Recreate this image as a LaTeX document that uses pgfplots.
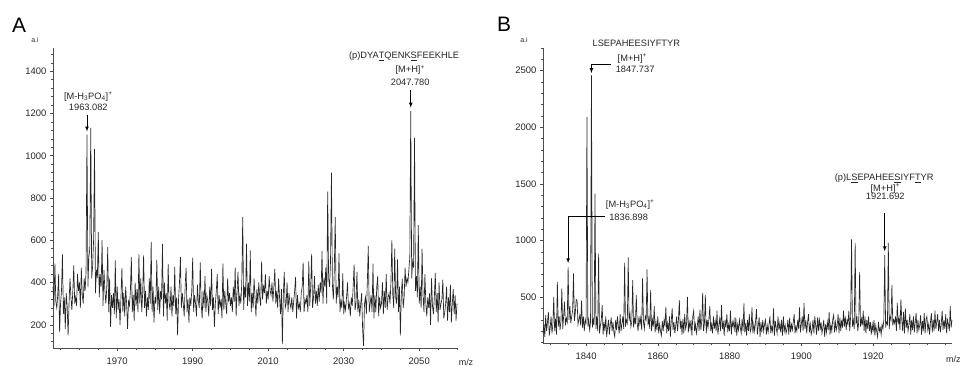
\documentclass[border=0pt]{standalone}
\usepackage{pgfplots}
\pgfplotsset{compat=1.18}
\usepackage{fontspec}
\setmainfont{Liberation Sans}
\definecolor{txt}{HTML}{262626}
\pgfplotsset{
  spec/.style={
    scale only axis, anchor=south west, clip=false,
    axis x line*=bottom, axis y line*=left,
    tick align=outside, major tick length=3bp, minor tick length=2bp,
    tick style={black!70, line width=0.5bp},
    axis line style={black!70, line width=0.6bp},
    every tick label/.append style={font=\fontsize{9.5}{10}\selectfont, text=txt},
    /pgf/number format/assume math mode=true,
    /pgf/number format/set thousands separator={},
    xticklabel style={yshift=-3.5bp},
  },
  specline/.style={black!85, line width=0.65bp, mark=none},
}
\newcommand{\ann}{\fontsize{9.3}{10}\selectfont\color{txt}}
\begin{document}
\begin{tikzpicture}
\useasboundingbox (0,0) rectangle (965bp,366bp);
% ---------------- Panel A ----------------
\begin{axis}[spec, at={(53bp,18bp)}, width=404bp, height=300bp,
  xmin=1953, xmax=2060, ymin=90, ymax=1510,
  xtick={1970,1990,2010,2030,2050}, minor xtick={1955,1960,...,2060},
  ytick={200,400,...,1400}, minor ytick={120,160,...,1480}]
\addplot[specline] coordinates {
(1953,380)(1953.25,290)(1953.5,490)(1953.75,310)
(1954,280)(1954.25,340)(1954.5,440)(1954.75,165)
(1955,300)(1955.25,360)(1955.5,533)(1955.75,250)
(1956,330)(1956.25,180)(1956.5,350)(1956.75,290)
(1957,150)(1957.25,300)(1957.5,420)(1957.75,330)
(1958,270)(1958.25,360)(1958.5,481)(1958.75,300)
(1959,330)(1959.25,290)(1959.5,440)(1959.75,360)
(1960,400)(1960.25,280)(1960.5,470)(1960.75,340)
(1961,300)(1961.25,420)(1961.5,360)(1961.75,450)
(1962,1100)(1962.25,380)(1962.5,520)(1962.75,560)
(1963,1132)(1963.25,420)(1963.5,480)(1963.75,600)
(1964,1032)(1964.25,350)(1964.5,460)(1964.75,420)
(1965,640)(1965.25,330)(1965.5,440)(1965.75,380)
(1966,600)(1966.25,290)(1966.5,460)(1966.75,360)
(1967,300)(1967.25,380)(1967.5,568)(1967.75,260)
(1968,420)(1968.25,190)(1968.5,340)(1968.75,280)
(1969,350)(1969.25,250)(1969.5,505)(1969.75,230)
(1970,380)(1970.25,270)(1970.5,320)(1970.75,200)
(1971,330)(1971.25,469)(1971.5,260)(1971.75,350)
(1972,240)(1972.25,380)(1972.5,300)(1972.75,180)
(1973,310)(1973.25,290)(1973.5,360)(1973.75,521)
(1974,260)(1974.25,340)(1974.5,220)(1974.75,400)
(1975,290)(1975.25,370)(1975.5,260)(1975.75,535)
(1976,300)(1976.25,420)(1976.5,260)(1976.75,350)
(1977,528)(1977.25,280)(1977.5,360)(1977.75,240)
(1978,330)(1978.25,270)(1978.5,420)(1978.75,300)
(1979,592)(1979.25,260)(1979.5,380)(1979.75,210)
(1980,330)(1980.25,300)(1980.5,507)(1980.75,270)
(1981,380)(1981.25,250)(1981.5,360)(1981.75,320)
(1982,583)(1982.25,240)(1982.5,400)(1982.75,300)
(1983,350)(1983.25,220)(1983.5,488)(1983.75,300)
(1984,270)(1984.25,380)(1984.5,240)(1984.75,340)
(1985,290)(1985.25,474)(1985.5,250)(1985.75,330)
(1986,150)(1986.25,320)(1986.5,400)(1986.75,521)
(1987,280)(1987.25,350)(1987.5,300)(1987.75,240)
(1988,380)(1988.25,470)(1988.5,260)(1988.75,320)
(1989,210)(1989.25,330)(1989.5,290)(1989.75,360)
(1990,518)(1990.25,260)(1990.5,340)(1990.75,300)
(1991,240)(1991.25,390)(1991.5,310)(1991.75,280)
(1992,495)(1992.25,300)(1992.5,230)(1992.75,360)
(1993,280)(1993.25,430)(1993.5,260)(1993.75,340)
(1994,310)(1994.25,240)(1994.5,380)(1994.75,290)
(1995,464)(1995.25,270)(1995.5,330)(1995.75,190)
(1996,300)(1996.25,360)(1996.5,440)(1996.75,250)
(1997,340)(1997.25,280)(1997.5,320)(1997.75,230)
(1998,490)(1998.25,270)(1998.5,360)(1998.75,300)
(1999,250)(1999.25,420)(1999.5,310)(1999.75,350)
(2000,290)(2000.25,330)(2000.5,260)(2000.75,380)
(2001,310)(2001.25,470)(2001.5,240)(2001.75,360)
(2002,450)(2002.25,290)(2002.5,340)(2002.75,300)
(2003,400)(2003.25,711)(2003.5,270)(2003.75,380)
(2004,330)(2004.25,584)(2004.5,290)(2004.75,400)
(2005,310)(2005.25,552)(2005.5,260)(2005.75,350)
(2006,280)(2006.25,420)(2006.5,330)(2006.75,240)
(2007,370)(2007.25,300)(2007.5,400)(2007.75,330)
(2008,290)(2008.25,500)(2008.5,320)(2008.75,380)
(2009,350)(2009.25,440)(2009.5,300)(2009.75,360)
(2010,320)(2010.25,430)(2010.5,360)(2010.75,340)
(2011,400)(2011.25,310)(2011.5,380)(2011.75,465)
(2012,300)(2012.25,360)(2012.5,280)(2012.75,420)
(2013,330)(2013.25,250)(2013.5,370)(2013.75,108)
(2014,340)(2014.25,450)(2014.5,280)(2014.75,300)
(2015,400)(2015.25,260)(2015.5,350)(2015.75,300)
(2016,280)(2016.25,330)(2016.5,260)(2016.75,310)
(2017,360)(2017.25,425)(2017.5,230)(2017.75,340)
(2018,280)(2018.25,300)(2018.5,260)(2018.75,350)
(2019,380)(2019.25,495)(2019.5,260)(2019.75,320)
(2020,300)(2020.25,340)(2020.5,260)(2020.75,500)
(2021,290)(2021.25,380)(2021.5,535)(2021.75,280)
(2022,330)(2022.25,430)(2022.5,300)(2022.75,360)
(2023,290)(2023.25,390)(2023.5,310)(2023.75,400)
(2024,350)(2024.25,550)(2024.5,300)(2024.75,420)
(2025,380)(2025.25,470)(2025.5,300)(2025.75,830)
(2026,420)(2026.25,380)(2026.5,500)(2026.75,920)
(2027,390)(2027.25,320)(2027.5,460)(2027.75,711)
(2028,300)(2028.25,380)(2028.5,330)(2028.75,538)
(2029,260)(2029.25,310)(2029.5,280)(2029.75,443)
(2030,250)(2030.25,300)(2030.5,270)(2030.75,330)
(2031,400)(2031.25,280)(2031.5,300)(2031.75,240)
(2032,330)(2032.25,290)(2032.5,380)(2032.75,486)
(2033,270)(2033.25,300)(2033.5,450)(2033.75,260)
(2034,320)(2034.25,240)(2034.5,300)(2034.75,350)
(2035,180)(2035.25,100)(2035.5,300)(2035.75,330)
(2036,250)(2036.25,400)(2036.5,573)(2036.75,260)
(2037,300)(2037.25,340)(2037.5,260)(2037.75,489)
(2038,230)(2038.25,340)(2038.5,260)(2038.75,380)
(2039,430)(2039.25,240)(2039.5,330)(2039.75,280)
(2040,300)(2040.25,400)(2040.5,250)(2040.75,360)
(2041,280)(2041.25,440)(2041.5,270)(2041.75,330)
(2042,350)(2042.25,300)(2042.5,400)(2042.75,600)
(2043,340)(2043.25,280)(2043.5,560)(2043.75,330)
(2044,300)(2044.25,510)(2044.5,260)(2044.75,380)
(2045,150)(2045.25,340)(2045.5,418)(2045.75,280)
(2046,330)(2046.25,470)(2046.5,380)(2046.75,420)
(2047,400)(2047.25,460)(2047.5,520)(2047.75,1211)
(2048,420)(2048.25,500)(2048.5,470)(2048.75,1084)
(2049,360)(2049.25,430)(2049.5,330)(2049.75,671)
(2050,300)(2050.25,380)(2050.5,280)(2050.75,560)
(2051,340)(2051.25,260)(2051.5,440)(2051.75,300)
(2052,240)(2052.25,330)(2052.5,280)(2052.75,350)
(2053,200)(2053.25,420)(2053.5,290)(2053.75,250)
(2054,330)(2054.25,445)(2054.5,260)(2054.75,350)
(2055,210)(2055.25,400)(2055.5,270)(2055.75,300)
(2056,320)(2056.25,413)(2056.5,230)(2056.75,260)
(2057,300)(2057.25,380)(2057.5,220)(2057.75,330)
(2058,260)(2058.25,390)(2058.5,210)(2058.75,300)
(2059,370)(2059.25,250)(2059.5,340)(2059.75,220)
(2060,300)
};
\node[font=\fontsize{21}{21}\selectfont, text=black] at ([xshift=-34bp,yshift=23bp]rel axis cs:0,1) {A};
\node[font=\fontsize{7}{7}\selectfont, text=txt] at ([xshift=-18bp,yshift=8bp]rel axis cs:0,1) {a.i};
\node[font=\fontsize{9}{9}\selectfont, text=txt] at ([xshift=9bp,yshift=-14bp]rel axis cs:1,0) {m/z};
\node[font=\ann] at (axis cs:1962.35,1281) {[M-H\textsubscript{3}PO\textsubscript{4}]\textsuperscript{+}};
\node[font=\ann] at (axis cs:1962.35,1229) {1963.082};
\draw[-latex, black, line width=0.7bp] (axis cs:1962,1195) -- (axis cs:1962,1115);
\node[font=\ann] at (axis cs:2046.0,1471) {(p)DYA\underline{T}QENK\underline{S}FEEKHLE};
\node[font=\ann] at (axis cs:2047.6,1405) {[M+H]\textsuperscript{+}};
\node[font=\ann] at (axis cs:2047.6,1348) {2047.780};
\draw[-latex, black, line width=0.7bp] (axis cs:2047.75,1310) -- (axis cs:2047.75,1228);
\end{axis}
% ---------------- Panel B ----------------
\begin{axis}[spec, at={(543bp,23bp)}, width=409bp, height=295bp,
  xmin=1828, xmax=1942, ymin=95, ymax=2700,
  xtick={1840,1860,1880,1900,1920}, minor xtick={1830,1835,...,1940},
  ytick={500,1000,...,2500}, minor ytick={100,200,...,2700}]
\addplot[specline] coordinates {
(1828,180)(1828.25,260)(1828.5,150)(1828.75,340)
(1829,200)(1829.25,280)(1829.5,370)(1829.75,160)
(1830,230)(1830.25,330)(1830.5,180)(1830.75,260)
(1831,503)(1831.25,200)(1831.5,310)(1831.75,170)
(1832,635)(1832.25,240)(1832.5,330)(1832.75,210)
(1833,290)(1833.25,577)(1833.5,220)(1833.75,330)
(1834,460)(1834.25,250)(1834.5,310)(1834.75,280)
(1835,765)(1835.25,300)(1835.5,420)(1835.75,270)
(1836,330)(1836.25,380)(1836.5,709)(1836.75,290)
(1837,360)(1837.25,480)(1837.5,470)(1837.75,260)
(1838,300)(1838.25,340)(1838.5,250)(1838.75,470)
(1839,230)(1839.25,330)(1839.5,200)(1839.75,300)
(1840,260)(1840.25,2090)(1840.5,240)(1840.75,300)
(1841,210)(1841.25,280)(1841.5,2458)(1841.75,230)
(1842,300)(1842.25,250)(1842.5,1414)(1842.75,220)
(1843,330)(1843.25,200)(1843.5,885)(1843.75,180)
(1844,250)(1844.25,300)(1844.5,430)(1844.75,170)
(1845,280)(1845.25,200)(1845.5,330)(1845.75,150)
(1846,230)(1846.25,300)(1846.5,170)(1846.75,260)
(1847,320)(1847.25,200)(1847.5,280)(1847.75,190)
(1848,150)(1848.25,300)(1848.5,210)(1848.75,330)
(1849,240)(1849.25,180)(1849.5,350)(1849.75,200)
(1850,260)(1850.25,330)(1850.5,220)(1850.75,803)
(1851,240)(1851.25,300)(1851.5,270)(1851.75,850)
(1852,290)(1852.25,350)(1852.5,240)(1852.75,280)
(1853,650)(1853.25,230)(1853.5,310)(1853.75,260)
(1854,518)(1854.25,270)(1854.5,200)(1854.75,330)
(1855,260)(1855.25,320)(1855.5,210)(1855.75,665)
(1856,280)(1856.25,220)(1856.5,330)(1856.75,300)
(1857,744)(1857.25,250)(1857.5,310)(1857.75,220)
(1858,562)(1858.25,200)(1858.5,300)(1858.75,240)
(1859,420)(1859.25,190)(1859.5,280)(1859.75,210)
(1860,330)(1860.25,180)(1860.5,260)(1860.75,200)
(1861,160)(1861.25,290)(1861.5,200)(1861.75,300)
(1862,240)(1862.25,415)(1862.5,180)(1862.75,270)
(1863,200)(1863.25,330)(1863.5,150)(1863.75,290)
(1864,400)(1864.25,210)(1864.5,280)(1864.75,180)
(1865,250)(1865.25,330)(1865.5,200)(1865.75,300)
(1866,474)(1866.25,220)(1866.5,290)(1866.75,170)
(1867,310)(1867.25,180)(1867.5,350)(1867.75,220)
(1868,260)(1868.25,503)(1868.5,190)(1868.75,280)
(1869,220)(1869.25,300)(1869.5,160)(1869.75,330)
(1870,380)(1870.25,200)(1870.5,260)(1870.75,180)
(1871,240)(1871.25,330)(1871.5,200)(1871.75,390)
(1872,210)(1872.25,290)(1872.5,538)(1872.75,200)
(1873,270)(1873.25,518)(1873.5,180)(1873.75,300)
(1874,230)(1874.25,310)(1874.5,420)(1874.75,200)
(1875,260)(1875.25,180)(1875.5,330)(1875.75,220)
(1876,290)(1876.25,200)(1876.5,380)(1876.75,170)
(1877,250)(1877.25,310)(1877.5,200)(1877.75,430)
(1878,220)(1878.25,290)(1878.5,160)(1878.75,300)
(1879,230)(1879.25,350)(1879.5,190)(1879.75,260)
(1880,200)(1880.25,380)(1880.5,170)(1880.75,280)
(1881,240)(1881.25,300)(1881.5,190)(1881.75,320)
(1882,160)(1882.25,260)(1882.5,210)(1882.75,300)
(1883,230)(1883.25,180)(1883.5,310)(1883.75,200)
(1884,444)(1884.25,190)(1884.5,270)(1884.75,160)
(1885,300)(1885.25,200)(1885.5,350)(1885.75,190)
(1886,220)(1886.25,410)(1886.5,180)(1886.75,260)
(1887,200)(1887.25,290)(1887.5,394)(1887.75,170)
(1888,250)(1888.25,320)(1888.5,150)(1888.75,280)
(1889,190)(1889.25,300)(1889.5,200)(1889.75,260)
(1890,300)(1890.25,170)(1890.5,250)(1890.75,190)
(1891,260)(1891.25,330)(1891.5,180)(1891.75,240)
(1892,200)(1892.25,400)(1892.5,160)(1892.75,290)
(1893,230)(1893.25,180)(1893.5,330)(1893.75,210)
(1894,270)(1894.25,190)(1894.5,300)(1894.75,160)
(1895,330)(1895.25,200)(1895.5,250)(1895.75,180)
(1896,220)(1896.25,300)(1896.5,170)(1896.75,320)
(1897,190)(1897.25,260)(1897.5,210)(1897.75,280)
(1898,350)(1898.25,180)(1898.5,240)(1898.75,200)
(1899,300)(1899.25,220)(1899.5,410)(1899.75,190)
(1900,260)(1900.25,330)(1900.5,200)(1900.75,450)
(1901,220)(1901.25,300)(1901.5,180)(1901.75,280)
(1902,350)(1902.25,190)(1902.5,260)(1902.75,170)
(1903,210)(1903.25,300)(1903.5,180)(1903.75,330)
(1904,250)(1904.25,170)(1904.5,320)(1904.75,200)
(1905,320)(1905.25,210)(1905.5,280)(1905.75,180)
(1906,230)(1906.25,300)(1906.5,150)(1906.75,260)
(1907,190)(1907.25,280)(1907.5,210)(1907.75,370)
(1908,170)(1908.25,260)(1908.5,200)(1908.75,300)
(1909,340)(1909.25,190)(1909.5,280)(1909.75,210)
(1910,250)(1910.25,350)(1910.5,180)(1910.75,320)
(1911,200)(1911.25,300)(1911.5,230)(1911.75,380)
(1912,240)(1912.25,330)(1912.5,210)(1912.75,300)
(1913,260)(1913.25,380)(1913.5,200)(1913.75,330)
(1914,1009)(1914.25,240)(1914.5,300)(1914.75,220)
(1915,979)(1915.25,260)(1915.5,330)(1915.75,200)
(1916,280)(1916.25,723)(1916.5,240)(1916.75,310)
(1917,250)(1917.25,380)(1917.5,200)(1917.75,330)
(1918,180)(1918.25,300)(1918.5,220)(1918.75,330)
(1919,200)(1919.25,280)(1919.5,170)(1919.75,260)
(1920,190)(1920.25,300)(1920.5,160)(1920.75,250)
(1921,200)(1921.25,150)(1921.5,280)(1921.75,200)
(1922,230)(1922.25,170)(1922.5,260)(1922.75,220)
(1923,300)(1923.25,870)(1923.5,230)(1923.75,280)
(1924,260)(1924.25,979)(1924.5,220)(1924.75,330)
(1925,300)(1925.25,606)(1925.5,250)(1925.75,300)
(1926,270)(1926.25,330)(1926.5,200)(1926.75,450)
(1927,260)(1927.25,320)(1927.5,210)(1927.75,480)
(1928,300)(1928.25,200)(1928.5,370)(1928.75,180)
(1929,400)(1929.25,230)(1929.5,300)(1929.75,200)
(1930,260)(1930.25,350)(1930.5,170)(1930.75,300)
(1931,210)(1931.25,330)(1931.5,190)(1931.75,280)
(1932,360)(1932.25,180)(1932.5,300)(1932.75,210)
(1933,250)(1933.25,340)(1933.5,170)(1933.75,290)
(1934,200)(1934.25,360)(1934.5,180)(1934.75,300)
(1935,330)(1935.25,210)(1935.5,260)(1935.75,170)
(1936,280)(1936.25,360)(1936.5,190)(1936.75,300)
(1937,200)(1937.25,380)(1937.5,220)(1937.75,280)
(1938,350)(1938.25,200)(1938.5,300)(1938.75,190)
(1939,260)(1939.25,380)(1939.5,210)(1939.75,300)
(1940,220)(1940.25,350)(1940.5,180)(1940.75,300)
(1941,260)(1941.25,200)(1941.5,420)(1941.75,230)
(1942,300)
};
\node[font=\fontsize{21}{21}\selectfont, text=black] at ([xshift=-39bp,yshift=24bp]rel axis cs:0,1) {B};
\node[font=\fontsize{7}{7}\selectfont, text=txt] at ([xshift=-19bp,yshift=8bp]rel axis cs:0,1) {a.i};
\node[font=\fontsize{9}{9}\selectfont, text=txt, anchor=east] at ([xshift=12bp,yshift=-16bp]rel axis cs:1,0) {m/z};
\node[font=\ann] at (axis cs:1854.0,2740) {LSEPAHEESIYFTYR};
\node[font=\ann] at (axis cs:1852.9,2605) {[M+H]\textsuperscript{+}};
\node[font=\ann, anchor=west] at (axis cs:1847.3,2510) {1847.737};
\draw[-latex, black, line width=0.7bp] (axis cs:1847.0,2555) -- (axis cs:1841.5,2555) -- (axis cs:1841.5,2478);
\node[font=\ann] at (axis cs:1852.3,1320) {[M-H\textsubscript{3}PO\textsubscript{4}]\textsuperscript{+}};
\node[font=\ann, anchor=west] at (axis cs:1845.5,1205) {1836.898};
\draw[-latex, black, line width=0.7bp] (axis cs:1845.4,1214) -- (axis cs:1835.0,1214) -- (axis cs:1835.0,800);
\node[font=\ann] at (axis cs:1923.1,1549) {(p)L\underline{S}EPAHEE\underline{S}IYF\underline{T}YR};
\node[font=\ann] at (axis cs:1923.4,1461) {[M+H]\textsuperscript{+}};
\node[font=\ann] at (axis cs:1923.4,1391) {1921.692};
\draw[-latex, black, line width=0.7bp] (axis cs:1923.25,1241) -- (axis cs:1923.25,905);
\end{axis}
\end{tikzpicture}
\end{document}
